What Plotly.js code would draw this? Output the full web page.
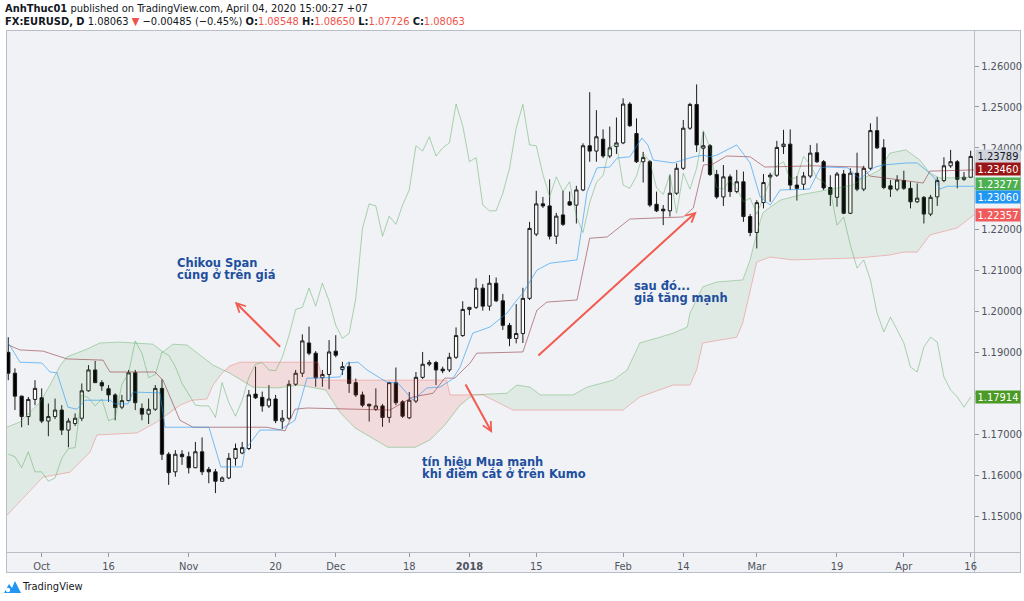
<!DOCTYPE html>
<html><head><meta charset="utf-8">
<script src="https://cdn.plot.ly/plotly-3.0.1.min.js"></script>
<style>
html,body{margin:0;padding:0;background:#fff;}
body{width:1024px;height:601px;overflow:hidden;position:relative;font-family:"Liberation Sans Narrow","DejaVu Sans Condensed","Liberation Sans",Arial,sans-serif;color:#131722;}
#box{position:absolute;left:6px;top:30px;width:1013px;height:541px;border:1px solid #b9bdc5;background:#f0f2f5;}
#hsep{position:absolute;left:0;top:521px;width:1013px;height:1px;background:#b9bdc5;}
#vsep{position:absolute;left:967px;top:0;width:1px;height:541px;background:#b9bdc5;}
#chart{position:absolute;left:0;top:0;width:1024px;height:601px;}
.hdr{position:absolute;left:5px;font-size:11px;white-space:nowrap;}
#h1{top:2px;} #h2{top:15px;}
.r{color:#f0524a;}
#foot{position:absolute;left:4px;top:580px;font-size:11px;display:flex;align-items:center;gap:2px;}
</style></head>
<body>
<div id="box"><div id="hsep"></div><div id="vsep"></div></div>
<div class="hdr" id="h1"><b>AnhThuc01</b> published on TradingView.com, April 04, 2020 15:00:27 +07</div>
<div class="hdr" id="h2"><b>FX:EURUSD, D</b> 1.08063 <span class="r">▼</span> −0.00485 (−0.45%) <b>O:</b><span class="r">1.08548</span> <b>H:</b><span class="r">1.08650</span> <b>L:</b><span class="r">1.07726</span> <b>C:</b><span class="r">1.08063</span></div>
<div id="foot"><svg width="17" height="13" viewBox="0 0 17 13"><path d="M0 13 L5 4 L8 8 L11 1 L17 13 Z" fill="#2196f3"/><circle cx="4" cy="10" r="2.2" fill="#fff"/></svg><span>TradingView</span></div>
<div id="chart"></div>
<script>
// ---- OHLC (daily bars, index 0 = left-most visible bar) ----
const opens = [1.1900,1.1849,1.1793,1.1743,1.1785,1.1789,1.1732,1.1743,1.1759,1.1710,1.1726,1.1739,1.1806,1.1857,1.1826,1.1811,1.1796,1.1766,1.1782,1.1850,
1.1763,1.1749,1.1761,1.1812,1.1651,1.1608,1.1651,1.1645,1.1618,1.1657,1.1614,1.1608,1.1585,1.1593,1.1641,1.1654,1.1665,1.1798,1.1790,1.1769,
1.1786,1.1732,1.1739,1.1822,1.1849,1.1923,1.1898,1.1838,1.1846,1.1903,1.1858,1.1865,1.1826,1.1796,1.1773,1.1761,1.1769,1.1741,1.1826,1.1779,
1.1740,1.1781,1.1839,1.1871,1.1875,1.1859,1.1857,1.1888,1.1941,1.2005,1.2010,1.2057,1.2013,1.2069,1.2026,1.1966,1.1934,1.1946,1.2032,1.2189,
1.2263,1.2258,1.2184,1.2236,1.2268,1.2260,1.2297,1.2405,1.2392,1.2421,1.2380,1.2403,1.2412,1.2507,1.2435,1.2366,1.2366,1.2262,1.2250,1.2246,
1.2289,1.2350,1.2448,1.2506,1.2399,1.2405,1.2335,1.2280,1.2329,1.2293,1.2317,1.2232,1.2193,1.2266,1.2329,1.2333,1.2403,1.2409,1.2309,1.2311,
1.2331,1.2388,1.2366,1.2303,1.2279,1.2336,1.2240,1.2338,1.2299,1.2350,1.2442,1.2400,1.2307,1.2299,1.2320,1.2301,1.2268,1.2279,1.2238,1.2280,
1.2320,1.2356,1.2366,1.2323,1.2328];
const highs = [1.1937,1.1861,1.1794,1.1791,1.1832,1.1812,1.1775,1.1787,1.1771,1.1739,1.1751,1.1824,1.1869,1.1879,1.1832,1.1820,1.1800,1.1796,1.1857,1.1857,
1.1775,1.1787,1.1820,1.1834,1.1656,1.1661,1.1661,1.1657,1.1681,1.1692,1.1620,1.1615,1.1597,1.1654,1.1677,1.1681,1.1808,1.1865,1.1804,1.1820,
1.1796,1.1759,1.1832,1.1857,1.1944,1.1963,1.1903,1.1857,1.1930,1.1942,1.1877,1.1877,1.1836,1.1804,1.1775,1.1812,1.1774,1.1828,1.1863,1.1783,
1.1803,1.1852,1.1901,1.1881,1.1879,1.1865,1.1899,1.1961,1.2025,1.2011,1.2081,1.2067,1.2089,1.2083,1.2043,1.1972,1.2018,1.2058,1.2219,1.2295,
1.2280,1.2323,1.2241,1.2295,1.2293,1.2307,1.2411,1.2536,1.2492,1.2445,1.2452,1.2474,1.2521,1.2512,1.2472,1.2390,1.2370,1.2293,1.2260,1.2333,
1.2362,1.2468,1.2510,1.2555,1.2439,1.2409,1.2346,1.2358,1.2335,1.2346,1.2342,1.2238,1.2272,1.2336,1.2339,1.2417,1.2444,1.2445,1.2331,1.2341,
1.2407,1.2411,1.2370,1.2333,1.2341,1.2346,1.2350,1.2388,1.2356,1.2460,1.2476,1.2421,1.2321,1.2333,1.2344,1.2317,1.2313,1.2282,1.2285,1.2328,
1.2377,1.2395,1.2370,1.2341,1.2393];
const lows = [1.1832,1.1759,1.1717,1.1722,1.1771,1.1727,1.1695,1.1737,1.1698,1.1668,1.1720,1.1732,1.1804,1.1825,1.1806,1.1779,1.1734,1.1761,1.1781,1.1759,
1.1734,1.1725,1.1757,1.1637,1.1576,1.1596,1.1625,1.1604,1.1617,1.1600,1.1580,1.1556,1.1584,1.1590,1.1623,1.1651,1.1661,1.1786,1.1755,1.1764,
1.1727,1.1712,1.1734,1.1818,1.1840,1.1893,1.1816,1.1816,1.1810,1.1888,1.1845,1.1801,1.1791,1.1766,1.1731,1.1757,1.1718,1.1728,1.1771,1.1740,
1.1737,1.1776,1.1835,1.1866,1.1820,1.1849,1.1852,1.1884,1.1938,1.1991,1.2006,1.2002,1.2002,1.2023,1.1955,1.1915,1.1922,1.1923,1.2028,1.2184,
1.2253,1.2176,1.2165,1.2209,1.2258,1.2215,1.2294,1.2366,1.2366,1.2375,1.2375,1.2385,1.2409,1.2451,1.2363,1.2315,1.2255,1.2243,1.2211,1.2232,
1.2285,1.2346,1.2444,1.2390,1.2366,1.2331,1.2275,1.2258,1.2280,1.2289,1.2219,1.2184,1.2154,1.2252,1.2268,1.2329,1.2385,1.2297,1.2271,1.2297,
1.2326,1.2363,1.2297,1.2258,1.2256,1.2238,1.2238,1.2294,1.2294,1.2346,1.2397,1.2299,1.2280,1.2294,1.2297,1.2252,1.2265,1.2215,1.2233,1.2258,
1.2316,1.2351,1.2301,1.2319,1.2326];
const closes = [1.1849,1.1793,1.1743,1.1785,1.1812,1.1732,1.1743,1.1759,1.1710,1.1732,1.1739,1.1806,1.1857,1.1826,1.1818,1.1796,1.1765,1.1782,1.1850,1.1777,
1.1749,1.1761,1.1812,1.1651,1.1606,1.1651,1.1645,1.1618,1.1657,1.1608,1.1608,1.1585,1.1593,1.1641,1.1665,1.1667,1.1796,1.1789,1.1769,1.1786,
1.1733,1.1739,1.1822,1.1849,1.1928,1.1898,1.1838,1.1846,1.1901,1.1893,1.1865,1.1824,1.1796,1.1771,1.1769,1.1769,1.1741,1.1826,1.1777,1.1744,
1.1783,1.1839,1.1871,1.1875,1.1857,1.1855,1.1888,1.1941,1.2005,1.2010,1.2057,1.2013,1.2069,1.2026,1.1966,1.1934,1.1946,1.2032,1.2203,1.2263,
1.2258,1.2184,1.2233,1.2213,1.2260,1.2297,1.2405,1.2392,1.2427,1.2380,1.2400,1.2412,1.2507,1.2454,1.2366,1.2376,1.2260,1.2246,1.2246,1.2289,
1.2350,1.2448,1.2506,1.2407,1.2405,1.2335,1.2280,1.2329,1.2293,1.2317,1.2232,1.2193,1.2266,1.2315,1.2333,1.2401,1.2409,1.2309,1.2301,1.2331,
1.2387,1.2366,1.2302,1.2286,1.2336,1.2240,1.2338,1.2299,1.2350,1.2442,1.2400,1.2303,1.2299,1.2321,1.2301,1.2268,1.2277,1.2238,1.2279,1.2320,
1.2356,1.2366,1.2323,1.2328,1.2379];

// ---- Ichimoku lines (bar position, price) ----
const tenkanX = [0,1.75,5.04,6.24,7.29,8.93,10.28,11.48,15.22,15.97,17.91,18.66,22.7,23.45,30.03,31.8,34.97,35.42,36.17,37.66,40.66,42.9,44.7,46.34,49.63,50.68,52.33,53.67,56.67,58.31,60.56,62.65,64.6,66.5,67.6,69.5,72.08,74.62,76.1,77.0,79.1,81.06,85.1,86.6,88.1,90.0,91.1,93.0,94.8,95.7,96.5,99.5,102.5,104.0,105.0,106.0,109.0,111.0,112.5,114.0,115.5,119.9,121.5,122.5,125.6,127.4,129.7,130.9,134.5,136.0,137.9,138.7,139.4,140.5,144.5];
const tenkanY = [1.1923,1.1876,1.1874,1.1852,1.1850,1.1766,1.1761,1.1783,1.1783,1.1774,1.1774,1.1803,1.1801,1.1717,1.1717,1.1620,1.1620,1.1661,1.1678,1.1710,1.1710,1.1734,1.1837,1.1837,1.1840,1.1874,1.1876,1.1857,1.1827,1.1825,1.1783,1.1813,1.1815,1.1835,1.1864,1.1947,1.1962,1.1996,1.2028,1.2045,1.2101,1.2118,1.2126,1.2292,1.2351,1.2353,1.2375,1.2378,1.2424,1.2407,1.2370,1.2363,1.2378,1.2382,1.2378,1.2382,1.2407,1.2363,1.2280,1.2260,1.2297,1.2299,1.2351,1.2353,1.2351,1.2324,1.2353,1.2358,1.2363,1.2363,1.2338,1.2324,1.2299,1.2306,1.2306];
const kijunX = [0,1.75,5.2,8.78,14.17,15.22,21.95,23.15,25.69,27.64,38.7,41.4,42.9,44.7,57.1,60.56,63.55,65.3,66.8,69.1,70.1,77.0,79.1,80.6,85.1,87.0,89.6,90.5,93.0,101.0,102.5,104.0,105.4,107.5,111.0,113.2,120.4,127.9,128.9,136.9,137.9,144.5];
const kijunY = [1.1918,1.1906,1.1903,1.1884,1.1881,1.1852,1.1852,1.1832,1.1734,1.1717,1.1717,1.1708,1.1761,1.1764,1.1759,1.1791,1.1800,1.1837,1.1837,1.1874,1.1898,1.1901,1.2003,1.2023,1.2028,1.2179,1.2182,1.2194,1.2226,1.2231,1.2253,1.2358,1.2360,1.2380,1.2378,1.2353,1.2356,1.2353,1.2331,1.2314,1.2343,1.2346];
const spanAX = [-0.19,1.75,4.74,6.24,7.74,8.78,11.78,13.72,16.71,21.65,23.15,24.64,26.74,28.68,30.63,33.17,36.6,40.2,43.6,47.5,49.6,51.9,54.9,56.8,60.9,63.1,65.3,67.6,69.5,74.6,76.1,78.1,79.6,84.5,86.6,90.5,92.6,94.5,97.5,99.5,101.6,102.0,103.9,106.0,109.9,111.0,112.0,112.9,114.0,115.5,118.5,122.5,126.4,127.4,130.4,131.9,134.3,136.4,137.9,139.4,144.5];
const spanAY = [1.1717,1.1730,1.1778,1.1820,1.1867,1.1889,1.1908,1.1923,1.1925,1.1920,1.1901,1.1920,1.1918,1.1893,1.1869,1.1849,1.1815,1.1813,1.1820,1.1808,1.1754,1.1715,1.1686,1.1668,1.1668,1.1686,1.1722,1.1771,1.1796,1.1800,1.1820,1.1815,1.1796,1.1796,1.1815,1.1832,1.1857,1.1923,1.1937,1.1947,1.1962,1.1996,1.2060,1.2072,1.2077,1.2126,1.2192,1.2241,1.2255,1.2272,1.2285,1.2297,1.2309,1.2321,1.2346,1.2387,1.2395,1.2370,1.2338,1.2326,1.2328];
const spanBX = [-0.19,3.25,5.19,9.23,12.23,13.27,19.26,22.25,23.75,25.69,27.49,29.73,30.63,31.97,33.17,34.67,46.34,47.09,65.6,66.1,71.03,73.1,75.5,91.98,94.5,99.5,102.0,103.0,103.9,109.0,109.9,112.0,114.0,117.4,127.4,131.9,133.9,136.0,137.9,141.96,144.5];
const spanBY = [1.1502,1.1563,1.1595,1.1607,1.1656,1.1698,1.1703,1.1730,1.1747,1.1771,1.1783,1.1786,1.1820,1.1849,1.1867,1.1876,1.1876,1.1832,1.1832,1.1796,1.1796,1.1778,1.1759,1.1759,1.1791,1.1820,1.1820,1.1857,1.1923,1.1937,1.1972,1.2121,1.2133,1.2126,1.2131,1.2138,1.2145,1.2145,1.2187,1.2204,1.2236];
const kumoCrossX = [32.3, 69.5];
const kumoCrossY = [1.1855, 1.1796];
// lagging span beyond the last visible close
const chikouTail = [1.2358,1.2326,1.2316,1.2297,1.2211,1.2231,1.2162,1.2106,1.2126,1.2077,1.1996,1.1950,1.1986,1.1955,1.1923,1.1864,1.1852,1.1913,1.1937,1.1925,1.1840,1.1808,1.1791,1.1766,1.1791];
const chikouShift = 25;

// ---- axes ----
const yTicks = [1.15,1.16,1.17,1.18,1.19,1.20,1.21,1.22,1.23,1.24,1.25,1.26];
const yTickHidden = [1.18,1.23];   // covered by the price tags in the picture
const xTickPos = [5,15,27,40,49,60,69,79,92,101,112,124,134,144];
const xTickText = ['Oct','16','Nov','20','Dec','18','<b>2018</b>','15','Feb','14','Mar','19','Apr','16'];
// ---- price scale tags ----
const tagValues = [1.23789,1.23460,1.23277,1.23060,1.22357,1.17914];
const tagColors = ['#d1d4dc','#9a1515','#4caf50','#2196f3','#f05a5a','#4a9a24'];
const tagText = ['#131722','#fff','#fff','#fff','#fff','#fff'];
const tagShift = [0,1,-7,-11,0,0];
// ---- notes ----
const noteText = ['Chikou Span','cũng ở trên giá','sau đó...','giá tăng mạnh','tín hiệu Mua mạnh','khi điểm cắt ở trên Kumo'];
const noteX = [25.0,25.0,93.4,93.4,61.6,61.6];
const noteY = [1.2118,1.2089,1.2062,1.2033,1.1632,1.1605];
const arrowTailX = [40.9,68.3,79.1], arrowTailY = [1.1910,1.1825,1.1889];
const arrowHeadX = [33.9,72.4,103.0], arrowHeadY = [1.2024,1.1703,1.2244];

const F = '"Liberation Sans Narrow","DejaVu Sans Condensed","Liberation Sans",Arial,sans-serif';
const idx = opens.map((_, i) => i);
const chikouY = closes.slice(chikouShift).concat(chikouTail);

function pick(xs, ys, lo, hi){ const px=[],py=[]; xs.forEach((x,i)=>{ if(x>lo && x<hi){px.push(x);py.push(ys[i]);} }); return [px,py]; }
function poly(lo, hi, upX, upY, dnX, dnY, startPt, endPt){
  const [ux,uy] = pick(upX, upY, lo, hi), [dx,dy] = pick(dnX, dnY, lo, hi);
  let X = [], Y = [];
  if(startPt){X.push(startPt[0]);Y.push(startPt[1]);}
  X = X.concat(ux); Y = Y.concat(uy);
  if(endPt){X.push(endPt[0]);Y.push(endPt[1]);}
  X = X.concat(dx.slice().reverse()); Y = Y.concat(dy.slice().reverse());
  return [X,Y];
}
const c1 = [kumoCrossX[0], kumoCrossY[0]], c2 = [kumoCrossX[1], kumoCrossY[1]];
const g1 = poly(-1, kumoCrossX[0], spanAX, spanAY, spanBX, spanBY, null, c1);
const p1 = poly(kumoCrossX[0], kumoCrossX[1], spanBX, spanBY, spanAX, spanAY, c1, c2);
const g2 = poly(kumoCrossX[1], 999, spanAX, spanAY, spanBX, spanBY, c2, null);
g2[0].push(c2[0]); g2[1].push(c2[1]);

const GREEN_FILL = 'rgba(67,160,71,0.09)', RED_FILL = 'rgba(244,67,54,0.13)';
const traces = [
  {x:g1[0], y:g1[1], mode:'lines', fill:'toself', fillcolor:GREEN_FILL, line:{width:0}, hoverinfo:'skip'},
  {x:p1[0], y:p1[1], mode:'lines', fill:'toself', fillcolor:RED_FILL, line:{width:0}, hoverinfo:'skip'},
  {x:g2[0], y:g2[1], mode:'lines', fill:'toself', fillcolor:GREEN_FILL, line:{width:0}, hoverinfo:'skip'},
  {x:spanAX, y:spanAY, mode:'lines', line:{color:'rgba(67,160,71,0.38)', width:1}, hoverinfo:'skip'},
  {x:spanBX, y:spanBY, mode:'lines', line:{color:'rgba(239,83,80,0.35)', width:1}, hoverinfo:'skip'},
  {x:idx, y:chikouY, mode:'lines', line:{color:'rgba(67,160,71,0.42)', width:1}, hoverinfo:'skip'},
  {x:kijunX, y:kijunY, mode:'lines', line:{color:'rgba(128,25,34,0.5)', width:1}, hoverinfo:'skip'},
  {x:tenkanX, y:tenkanY, mode:'lines', line:{color:'rgba(33,150,243,0.6)', width:1}, hoverinfo:'skip'},
  {type:'candlestick', x:idx, open:opens, high:highs, low:lows, close:closes, whiskerwidth:0,
   increasing:{line:{color:'#1a1a1a', width:1}, fillcolor:'#ffffff'},
   decreasing:{line:{color:'#1a1a1a', width:1}, fillcolor:'#000000'}, hoverinfo:'skip'}
];

const ann = [];
tagValues.forEach((v,i)=>ann.push({xref:'paper', x:1, xanchor:'left', xshift:1, yref:'y', y:v, yanchor:'middle', yshift:tagShift[i],
  text:v.toFixed(5), showarrow:false, bgcolor:tagColors[i], font:{family:F, size:11, color:tagText[i]}, width:44, height:12, borderpad:0, align:'center'}));
noteText.forEach((t,i)=>ann.push({xref:'x', yref:'y', x:noteX[i], y:noteY[i], xanchor:'left', yanchor:'middle', showarrow:false,
  text:'<b>'+t+'</b>', font:{family:'"DejaVu Sans", Verdana, sans-serif', size:11.5, color:'#1e4f9f'}}));
arrowHeadX.forEach((x,i)=>ann.push({xref:'x', yref:'y', x:x, y:arrowHeadY[i], axref:'x', ayref:'y', ax:arrowTailX[i], ay:arrowTailY[i],
  text:'', showarrow:true, arrowhead:5, arrowsize:0.9, arrowwidth:2, arrowcolor:'#f35b50', standoff:0}));

const layout = {
  width:1024, height:601, margin:{l:7, r:50, t:30, b:49, pad:0},
  paper_bgcolor:'rgba(0,0,0,0)', plot_bgcolor:'rgba(0,0,0,0)', showlegend:false,
  xaxis:{range:[-0.19,144.5], tickmode:'array', tickvals:xTickPos, ticktext:xTickText, ticks:'outside', ticklen:4, tickcolor:'#9598a1',
    tickfont:{family:F, size:11, color:'#50535e'}, showgrid:false, zeroline:false, showline:false, rangeslider:{visible:false}, fixedrange:true},
  yaxis:{side:'right', range:[1.1412,1.2688], tickmode:'array', tickvals:yTicks,
    ticktext:yTicks.map(v=>yTickHidden.some(h=>Math.abs(h-v)<1e-9) ? '' : v.toFixed(5)), ticks:'outside', ticklen:4, tickcolor:'#9598a1',
    tickfont:{family:F, size:11, color:'#50535e'}, showgrid:false, zeroline:false, showline:false, fixedrange:true},
  annotations:ann
};
Plotly.newPlot('chart', traces, layout, {displayModeBar:false, staticPlot:true});
</script>
</body></html>
